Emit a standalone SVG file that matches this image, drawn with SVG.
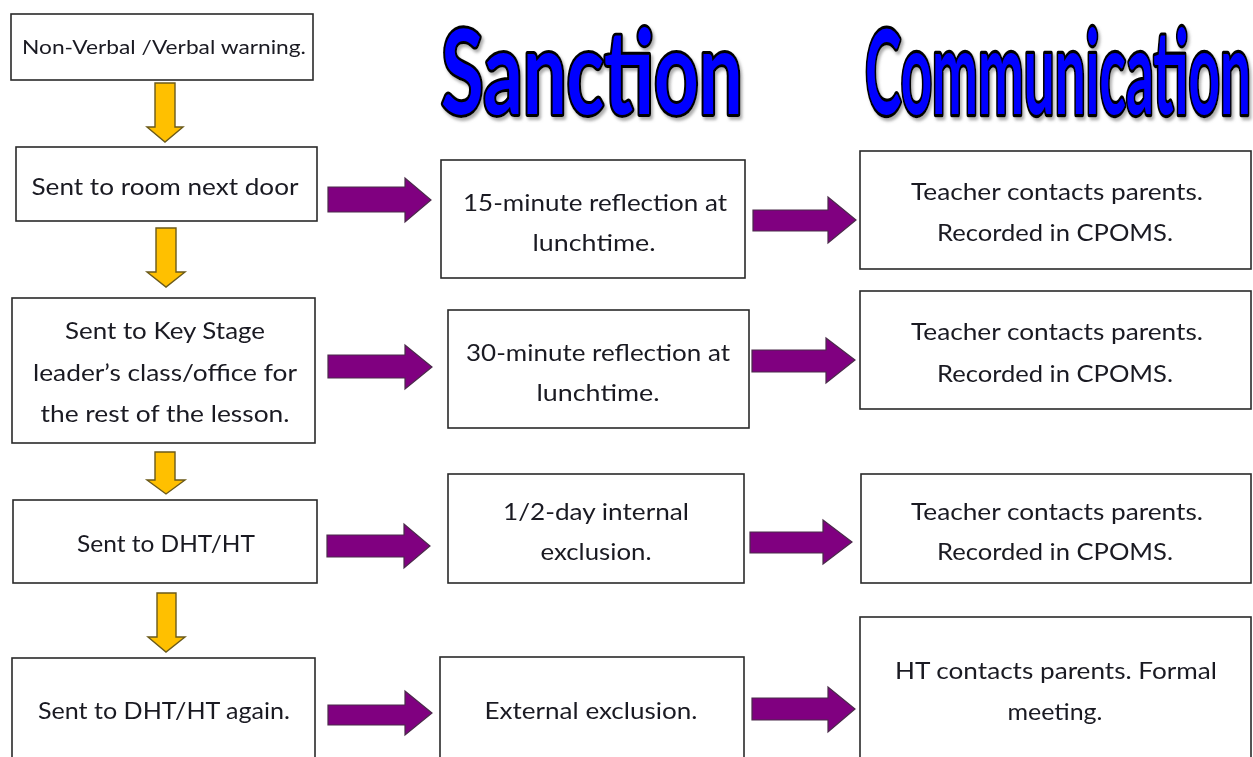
<svg xmlns="http://www.w3.org/2000/svg" width="1253" height="757" viewBox="0 0 1253 757">
<defs>
<style>
.box{fill:#ffffff;stroke:#2a2a2a;stroke-width:1.6}
.t{font-family:Lato,"Liberation Sans",sans-serif;font-size:23px;fill:#1a1a22;text-anchor:middle}
.small{font-size:19.5px}
.title{font-family:Lato,"Open Sans",sans-serif;font-weight:bold;font-size:116px;fill:#0000ff;stroke:#000000;stroke-width:5;paint-order:stroke;stroke-linejoin:round;vector-effect:non-scaling-stroke}
.ya{fill:#ffc000;stroke:#6b5a1a;stroke-width:1.4;stroke-linejoin:miter}
.pa{fill:#800080;stroke:#4a2a4a;stroke-width:1.2;stroke-linejoin:miter}
</style>
<filter id="sh" x="-5%" y="-5%" width="115%" height="120%">
<feDropShadow dx="2" dy="3" stdDeviation="1.5" flood-color="#777777" flood-opacity="0.6"/>
</filter>
</defs>
<rect width="1253" height="757" fill="#ffffff"/>

<g id="titles" filter="url(#sh)">
<text class="title" transform="translate(441,114) scale(0.66,1)" x="0" y="0" textLength="457" lengthAdjust="spacingAndGlyphs">Sanction</text>
<text class="title" transform="translate(865,114) scale(0.47,1)" x="0" y="0" textLength="821" lengthAdjust="spacingAndGlyphs">Communication</text>
</g>

<g id="connectors">
<polygon class="ya" points="155,83 175,83 175,127 183,127 165,142 147,127 155,127"/>
<polygon class="ya" points="156,228 176,228 176,272 185,272 166,287 147,272 156,272"/>
<polygon class="ya" points="155,452 175,452 175,480 185,480 166,494 147,480 155,480"/>
<polygon class="ya" points="157,593 176,593 176,637 185,637 166,652 148,637 157,637"/>

<polygon class="pa" points="328,187 405,187 405,178 431,200 405,222 405,212 328,212"/>
<polygon class="pa" points="328,355 405,355 405,345 432,367 405,389 405,378 328,378"/>
<polygon class="pa" points="327,535 404,535 404,524 430,546 404,568 404,557 327,557"/>
<polygon class="pa" points="328,705 405,705 405,691 432,713 405,735 405,725 328,725"/>

<polygon class="pa" points="753,210 828,210 828,197 856,220 828,243 828,231 753,231"/>
<polygon class="pa" points="752,350 826,350 826,338 855,360 826,383 826,372 752,372"/>
<polygon class="pa" points="750,532 823,532 823,520 852,542 823,564 823,553 750,553"/>
<polygon class="pa" points="752,698 828,698 828,687 855,709 828,732 828,720 752,720"/>
</g>

<g id="n1">
<rect class="box" x="11" y="14" width="302" height="66"/>
<text class="t small" x="164" y="54" textLength="284" lengthAdjust="spacingAndGlyphs">Non-Verbal /Verbal warning.</text>
</g>
<g id="n2">
<rect class="box" x="16" y="147" width="301" height="74"/>
<text class="t" x="165" y="195" textLength="267" lengthAdjust="spacingAndGlyphs">Sent to room next door</text>
</g>
<g id="n3">
<rect class="box" x="12" y="298" width="303" height="145"/>
<text class="t" x="165" y="339" textLength="200" lengthAdjust="spacingAndGlyphs">Sent to Key Stage</text>
<text class="t" x="165" y="381" textLength="264" lengthAdjust="spacingAndGlyphs">leader’s class/office for</text>
<text class="t" x="165" y="422" textLength="249" lengthAdjust="spacingAndGlyphs">the rest of the lesson.</text>
</g>
<g id="n4">
<rect class="box" x="13" y="500" width="304" height="83"/>
<text class="t" x="166" y="552" textLength="178" lengthAdjust="spacingAndGlyphs">Sent to DHT/HT</text>
</g>
<g id="n5">
<rect class="box" x="12" y="658" width="303" height="112"/>
<text class="t" x="164" y="719" textLength="252" lengthAdjust="spacingAndGlyphs">Sent to DHT/HT again.</text>
</g>

<g id="s1">
<rect class="box" x="441" y="160" width="304" height="118"/>
<text class="t" x="595" y="211" textLength="264" lengthAdjust="spacingAndGlyphs">15-minute reflection at</text>
<text class="t" x="594" y="251" textLength="123" lengthAdjust="spacingAndGlyphs">lunchtime.</text>
</g>
<g id="s2">
<rect class="box" x="448" y="310" width="301" height="118"/>
<text class="t" x="598" y="361" textLength="264" lengthAdjust="spacingAndGlyphs">30-minute reflection at</text>
<text class="t" x="598" y="401" textLength="123" lengthAdjust="spacingAndGlyphs">lunchtime.</text>
</g>
<g id="s3">
<rect class="box" x="448" y="474" width="296" height="109"/>
<text class="t" x="596" y="520" textLength="186" lengthAdjust="spacingAndGlyphs">1/2-day internal</text>
<text class="t" x="596" y="560" textLength="111" lengthAdjust="spacingAndGlyphs">exclusion.</text>
</g>
<g id="s4">
<rect class="box" x="440" y="657" width="304" height="113"/>
<text class="t" x="591" y="719" textLength="213" lengthAdjust="spacingAndGlyphs">External exclusion.</text>
</g>

<g id="c1">
<rect class="box" x="860" y="151" width="391" height="118"/>
<text class="t" x="1057" y="200" textLength="292" lengthAdjust="spacingAndGlyphs">Teacher contacts parents.</text>
<text class="t" x="1055" y="241" textLength="236" lengthAdjust="spacingAndGlyphs">Recorded in CPOMS.</text>
</g>
<g id="c2">
<rect class="box" x="860" y="291" width="391" height="118"/>
<text class="t" x="1057" y="340" textLength="292" lengthAdjust="spacingAndGlyphs">Teacher contacts parents.</text>
<text class="t" x="1055" y="382" textLength="236" lengthAdjust="spacingAndGlyphs">Recorded in CPOMS.</text>
</g>
<g id="c3">
<rect class="box" x="861" y="474" width="390" height="109"/>
<text class="t" x="1057" y="520" textLength="292" lengthAdjust="spacingAndGlyphs">Teacher contacts parents.</text>
<text class="t" x="1055" y="560" textLength="236" lengthAdjust="spacingAndGlyphs">Recorded in CPOMS.</text>
</g>
<g id="c4">
<rect class="box" x="860" y="617" width="391" height="153"/>
<text class="t" x="1056" y="679" textLength="322" lengthAdjust="spacingAndGlyphs">HT contacts parents. Formal</text>
<text class="t" x="1055" y="720" textLength="95" lengthAdjust="spacingAndGlyphs">meeting.</text>
</g>
</svg>
